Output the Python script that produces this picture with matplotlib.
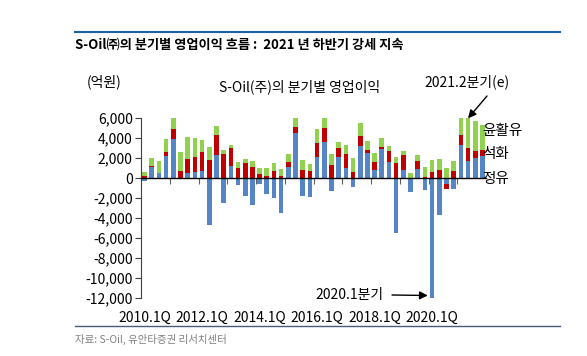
import matplotlib
matplotlib.use('Agg')
import matplotlib.pyplot as plt
import matplotlib.transforms as mtransforms
from matplotlib.lines import Line2D
import numpy as np

plt.rcParams['font.family'] = ['Noto Sans CJK KR', 'DejaVu Sans']

# 분기 라벨 (2010.1Q ~ 2021.4Q)
quarters = [f'{y}.{q}Q' for y in range(2010, 2022) for q in range(1, 5)]

# 부문별 영업이익 (억원)
refining = [-250, 1130, 470, 2230, 3930, 30, 530, 630,
            700, -4700, 2300, -2530, 1200, -670, -1770, -2670,
            -630, -1630, -1970, -3470, 1070, 4470, -1770, -1930,
            2070, 3600, -1300, 2130, 970, -930, 3230, 2530,
            770, 2900, 1600, -5530, 800, -1430, 870, -1200,
            -11950, -3700, -600, -1070, 3330, 1700, 2030, 2230]
petchem = [230, 70, 30, 400, 970, 700, 1340, 1440,
           1900, 1800, 2000, 2400, 1830, 970, 1470, 1100,
           400, 200, 700, 230, 500, 670, 800, 700,
           1470, 1430, 1300, 830, 1430, 630, 970, 270,
           830, 200, 1070, 1470, 1500, 0, 830, 70,
           600, 800, -530, 700, 970, 1270, 700, 570]
lube = [400, 830, 1230, 1300, 1100, 1870, 2260, 1930,
        1170, 1300, 900, 400, 270, 630, 430, 600,
        570, 770, 770, 670, 830, 930, 1000, 700,
        1370, 1030, 1100, 670, 930, 1340, 1270, 870,
        930, 900, 500, 600, 400, 470, 600, 1070,
        1200, 1130, 970, 1030, 1770, 3000, 2970, 2500]

series = [('정유', refining, '#5585C5'),
          ('석화', petchem, '#C00000'),
          ('윤활유', lube, '#92D050')]

fig = plt.figure(figsize=(5.87, 3.56), dpi=100)
ax = fig.add_axes([141 / 587, 1 - 298 / 356, (486 - 141) / 587, 180 / 356])

x = np.arange(len(quarters))
pos_base = np.zeros(len(x))
neg_base = np.zeros(len(x))
for name, vals, color in series:
    v = np.array(vals, dtype=float)
    base = np.where(v >= 0, pos_base, neg_base)
    ax.bar(x, v, 0.65, bottom=base, color=color, edgecolor='none', zorder=2)
    pos_base += np.where(v >= 0, v, 0)
    neg_base += np.where(v < 0, v, 0)

ax.set_xlim(-0.5, len(x) - 0.5)
ax.set_ylim(-12000, 6000)
ax.set_yticks(np.arange(-12000, 6001, 2000))
ax.set_yticklabels([f'{t:,}' for t in range(-12000, 6001, 2000)])
ax.tick_params(axis='y', direction='out', length=4, width=0.8, labelsize=10,
               color='#404040', pad=2)

for s in ['top', 'right']:
    ax.spines[s].set_visible(False)
ax.spines['left'].set_color('#404040')
ax.spines['bottom'].set_position(('data', 0))
ax.spines['bottom'].set_color('black')
ax.spines['bottom'].set_linewidth(1.0)
ax.spines['bottom'].set_zorder(3)

ax.set_xticks([])
ax.set_xticks(np.arange(3.5, len(x) - 1, 4), minor=True)
ax.tick_params(axis='x', which='minor', direction='out', length=4, width=0.8,
               color='#606060')

trans = mtransforms.blended_transform_factory(ax.transData, ax.transAxes)
for i in range(0, len(x), 8):
    ax.text(i, -0.111, quarters[i], transform=trans, ha='center', va='center',
            fontsize=10)

# 범례 대신 오른쪽 라벨
ax.text(0.99, 0.93, '윤활유', transform=ax.transAxes, fontsize=10.5, va='center')
ax.text(0.99, 0.80, '석화', transform=ax.transAxes, fontsize=10.5, va='center')
ax.text(0.99, 0.66, '정유', transform=ax.transAxes, fontsize=10.5, va='center')

# 주석: 2021.2분기(e)
i_e = quarters.index('2021.2Q')
ax.annotate('', xy=(i_e, pos_base[i_e]), xycoords='data',
            xytext=(487 / 587, 1 - 96 / 356), textcoords='figure fraction',
            arrowprops=dict(arrowstyle='-|>', color='black', lw=1.0,
                            mutation_scale=12, shrinkA=0, shrinkB=0))
fig.text(467 / 587, 1 - 82 / 356, '2021.2분기(e)', ha='center', va='center',
         fontsize=10)

# 주석: 2020.1분기
i_c = quarters.index('2020.1Q')
ax.annotate('', xy=(i_c - 0.6, neg_base[i_c] + 200), xycoords='data',
            xytext=(392 / 587, 1 - 295 / 356), textcoords='figure fraction',
            arrowprops=dict(arrowstyle='-|>', color='black', lw=1.0,
                            mutation_scale=12, shrinkA=0, shrinkB=0))
fig.text(350 / 587, 1 - 295 / 356, '2020.1분기', ha='center', va='center',
         fontsize=10)

fig.text(121 / 587, 1 - 82 / 356, '(억원)', ha='right', va='center', fontsize=10)
fig.text(300 / 587, 1 - 87 / 356, 'S-Oil(주)의 분기별 영업이익', ha='center',
         va='center', fontsize=10)

# 상단 제목과 구분선
fig.add_artist(Line2D([75 / 587, 560 / 587], [1 - 32 / 356, 1 - 32 / 356],
                      color='#1F5FA8', lw=1.5))
fig.text(75 / 587, 1 - 45 / 356, 'S-Oil㈜의 분기별 영업이익 흐름 :  2021 년 하반기 강세 지속',
         ha='left', va='center', fontsize=9.5, fontweight='bold')
fig.add_artist(Line2D([75 / 587, 560 / 587], [1 - 326 / 356, 1 - 326 / 356],
                      color='#4A5A78', lw=1.0))
fig.text(75 / 587, 1 - 339 / 356, '자료: S-Oil, 유안타증권 리서치센터', ha='left',
         va='center', fontsize=7.5, color='#808080')

fig.savefig('out.png', dpi=100)
